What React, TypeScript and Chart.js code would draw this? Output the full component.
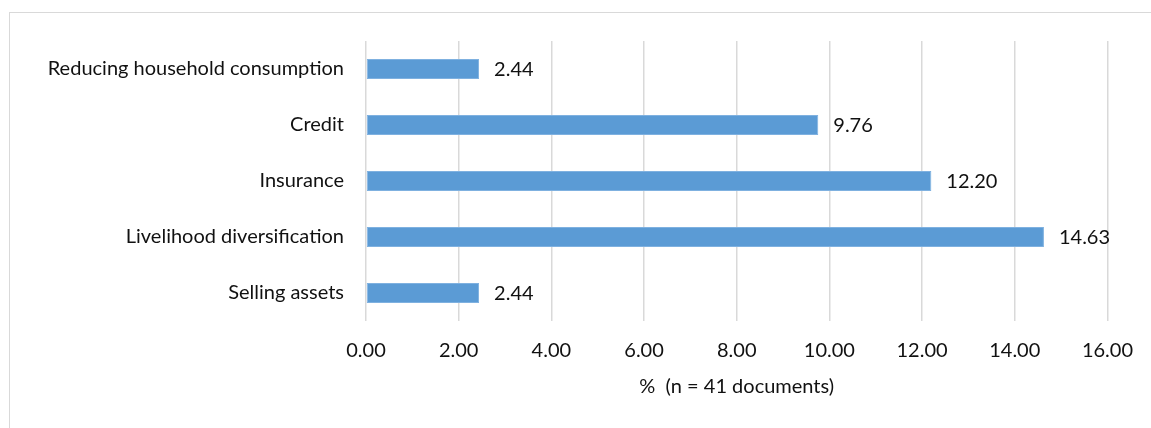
import React, { useEffect, useRef } from "react";
import { Chart, registerables } from "chart.js";

Chart.register(...registerables);

const categories = [
  "Reducing household consumption",
  "Credit",
  "Insurance",
  "Livelihood diversification",
  "Selling assets",
];
const values = [2.44, 9.76, 12.2, 14.63, 2.44];
const axisTitle = "%  (n = 41 documents)";
const xMin = 0;
const xMax = 16;
const xStep = 2;

const FONT = "Lato, 'Open Sans', sans-serif";
const FS = 20;

const valueLabels = {
  id: "valueLabels",
  afterDatasetsDraw(chart: any) {
    const ctx = chart.ctx;
    const meta = chart.getDatasetMeta(0);
    ctx.save();
    ctx.font = `${FS}px ${FONT}`;
    ctx.fillStyle = "#111111";
    ctx.textAlign = "left";
    ctx.textBaseline = "middle";
    meta.data.forEach((bar: any, i: number) => {
      const v = chart.data.datasets[0].data[i] as number;
      ctx.fillText(v.toFixed(2), bar.x + 15, bar.y + 1);
    });
    ctx.restore();
  },
};

export default function App() {
  const ref = useRef<HTMLCanvasElement | null>(null);

  useEffect(() => {
    if (!ref.current) return;
    const chart = new Chart(ref.current, {
      type: "bar",
      data: {
        labels: categories,
        datasets: [
          {
            data: values,
            backgroundColor: "#5B9BD5",
            borderColor: "#7FB1E0",
            borderWidth: 1,
            borderSkipped: false,
            barPercentage: 0.36,
            categoryPercentage: 1,
          },
        ],
      },
      options: {
        indexAxis: "y",
        animation: false,
        responsive: true,
        maintainAspectRatio: false,
        layout: { padding: { top: 41, right: 34, bottom: 0, left: 0 } },
        plugins: {
          legend: { display: false },
          tooltip: { enabled: false },
        },
        scales: {
          x: {
            min: xMin,
            max: xMax,
            ticks: {
              stepSize: xStep,
              padding: 18,
              color: "#111111",
              font: { family: FONT, size: FS },
              callback: (v: any) => Number(v).toFixed(2),
            },
            grid: { color: "#d9d9d9", lineWidth: 1.5, drawTicks: false },
            border: { display: false },
            title: {
              display: true,
              text: axisTitle,
              color: "#111111",
              font: { family: FONT, size: FS },
              padding: { top: 10, bottom: 29 },
            },
            afterFit: (scale: any) => {
              scale.height = 107;
            },
          },
          y: {
            ticks: {
              padding: 22,
              color: "#111111",
              font: { family: FONT, size: FS },
            },
            grid: { display: false, drawTicks: false },
            border: { display: false },
            afterFit: (scale: any) => {
              scale.width = 366;
            },
          },
        },
      },
      plugins: [valueLabels],
    });
    return () => chart.destroy();
  }, []);

  return (
    <div
      style={{
        position: "fixed",
        left: 0,
        top: 0,
        width: 1151,
        height: 428,
        overflow: "hidden",
        background: "#fff",
      }}
    >
      <div
        style={{
          position: "absolute",
          left: 9,
          top: 12,
          width: 1300,
          height: 600,
          borderTop: "1.5px solid #d9d9d9",
          borderLeft: "1.5px solid #d9d9d9",
        }}
      />
      <div style={{ position: "absolute", left: 0, top: 0, width: 1151, height: 428 }}>
        <canvas ref={ref} />
      </div>
    </div>
  );
}
